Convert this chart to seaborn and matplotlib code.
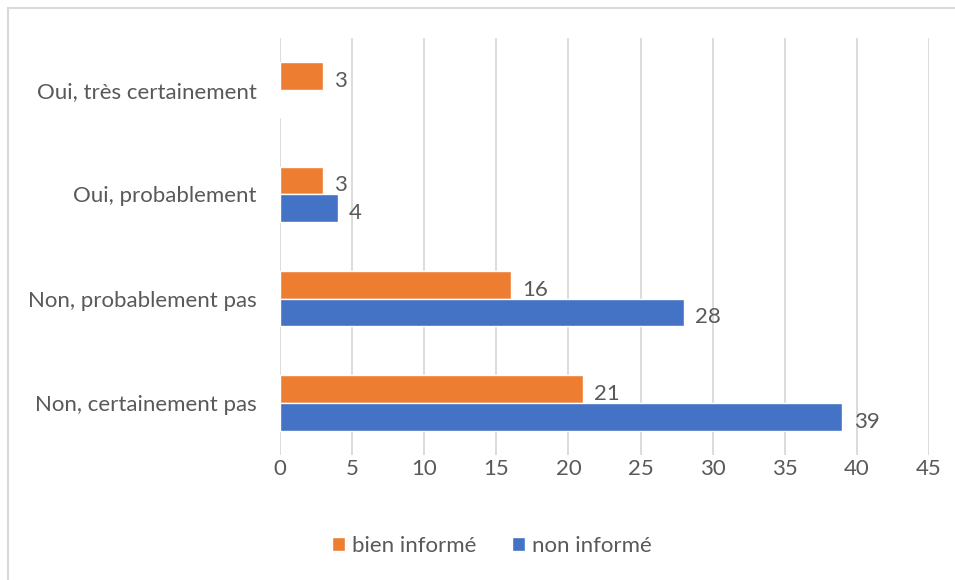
import matplotlib
matplotlib.use("Agg")
import matplotlib.pyplot as plt
import seaborn as sns
import pandas as pd
from matplotlib.patches import Rectangle

categories = ["Oui, très certainement", "Oui, probablement", "Non, probablement pas", "Non, certainement pas"]
bien_informe = [3, 3, 16, 21]
non_informe = [0, 4, 28, 39]
series_names = ["bien informé", "non informé"]
x_ticks = [0, 5, 10, 15, 20, 25, 30, 35, 40, 45]

df = pd.DataFrame({
    "cat": categories * 2,
    "serie": [series_names[0]] * 4 + [series_names[1]] * 4,
    "val": bien_informe + non_informe,
})

sns.set_theme(style="white")
plt.rcParams["font.family"] = ["Lato", "DejaVu Sans"]
text_color = "#595959"
fs = 16

fig = plt.figure(figsize=(9.55, 5.8), dpi=100)
ax = fig.add_axes([0.2932, 0.2155, 0.6796, 0.719])

sns.barplot(data=df, y="cat", x="val", hue="serie", order=categories,
            hue_order=series_names, palette=["#ED7D31", "#4472C4"],
            orient="h", width=0.53, ax=ax, saturation=1, legend=True)

for cont in ax.containers:
    labels = [f"{v:g}" if v > 0 else "" for v in cont.datavalues]
    anns = ax.bar_label(cont, labels=labels, padding=9, fontsize=fs, color=text_color)
    for a in anns:
        a.xyann = (8, -3.5)

ax.set_xlim(0, 45)
ax.set_ylim(3.5, -0.5)
ax.set_xticks(x_ticks)
ax.set_xticklabels([str(t) for t in x_ticks])
ax.xaxis.grid(True, color="#D9D9D9", linewidth=1.3)
ax.set_axisbelow(True)
for s in ax.spines.values():
    s.set_visible(False)
ax.tick_params(axis="both", length=0, labelsize=fs, colors=text_color)
ax.tick_params(axis="x", pad=3)
ax.tick_params(axis="y", pad=17)
ax.set_xlabel("")
ax.set_ylabel("")

handles, labels_ = ax.get_legend_handles_labels()
ax.get_legend().remove()
leg = fig.legend(handles, labels_, loc="center", bbox_to_anchor=(0.515, 0.059), ncol=2,
                 frameon=False, fontsize=fs, handlelength=0.6, handleheight=0.6,
                 handletextpad=0.3, columnspacing=1.6)
for t in leg.get_texts():
    t.set_color(text_color)

fig.patches.append(Rectangle((8 / 955, -0.1), 1.2, (580 - 8) / 580 + 0.1,
                             transform=fig.transFigure, fill=False,
                             edgecolor="#D9D9D9", linewidth=1.5))

fig.savefig("out.png", dpi=100)
